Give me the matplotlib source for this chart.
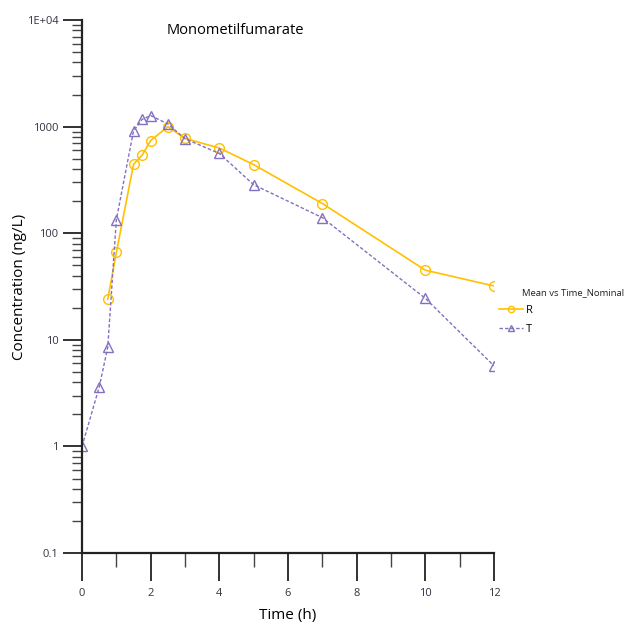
import matplotlib
matplotlib.use("Agg")
import matplotlib.pyplot as plt
from matplotlib.ticker import FixedLocator, LogLocator, NullFormatter

plt.rcParams['font.family'] = ['Open Sans', 'DejaVu Sans']

time_r = [0.75, 1, 1.5, 1.75, 2, 2.5, 3, 4, 5, 7, 10, 12]
conc_r = [24, 66, 442, 540, 740, 1000, 775, 630, 440, 190, 45, 32]

time_t = [0, 0.5, 0.75, 1, 1.5, 1.75, 2, 2.5, 3, 4, 5, 7, 10, 12]
conc_t = [1.0, 3.6, 8.5, 134, 910, 1170, 1270, 1060, 770, 560, 285, 140, 24.5, 5.7]

y_ticks = [0.1, 1, 10, 100, 1000, 10000]
y_labels = ['0.1', '1', '10', '100', '1000', '1E+04']
x_ticks = [0, 2, 4, 6, 8, 10, 12]

yellow = '#FFC000'
purple = '#8470C0'

fig = plt.figure(figsize=(6.28, 6.26), dpi=100)
ax = fig.add_axes([0.1306, 0.1166, 0.656, 0.8514])

ax.plot(time_r, conc_r, color=yellow, lw=1.2, marker='o', ms=7,
        mfc='none', mec=yellow, mew=1.0, label='R')
ax.plot(time_t, conc_t, color=purple, lw=1.0, ls=(0, (2.5, 1.5)), marker='^',
        ms=7, mfc='none', mec=purple, mew=1.0, label='T')

ax.set_yscale('log')
ax.set_xlim(0, 12)
ax.set_ylim(0.1, 10000)
ax.set_yticks(y_ticks)
ax.set_yticklabels(y_labels)
ax.yaxis.set_minor_locator(LogLocator(base=10, subs=range(2, 10)))
ax.yaxis.set_minor_formatter(NullFormatter())
ax.set_xticks(x_ticks)
ax.set_xticklabels([str(v) for v in x_ticks])
ax.xaxis.set_minor_locator(FixedLocator([1, 3, 5, 7, 9, 11]))

for s in ['top', 'right']:
    ax.spines[s].set_visible(False)
for s in ['left', 'bottom']:
    ax.spines[s].set_linewidth(1.6)
    ax.spines[s].set_color('#222222')

ax.tick_params(axis='x', which='major', length=20, width=1.3, pad=5,
               labelsize=8, colors='#222222', labelcolor='#333344')
ax.tick_params(axis='x', which='minor', length=10, width=1.0, colors='#444444')
ax.tick_params(axis='y', which='major', length=14, width=1.3, pad=3,
               labelsize=8, colors='#222222', labelcolor='#333344')
ax.tick_params(axis='y', which='minor', length=7, width=1.0, colors='#444444')

ax.set_xlabel('Time (h)', fontsize=11, labelpad=7)
ax.set_ylabel('Concentration (ng/L)', fontsize=11, labelpad=0)

fig.text(0.375, 0.952, 'Monometilfumarate', fontsize=10.5, ha='center', va='center')

fig.text(0.831, 0.533, 'Mean vs Time_Nominal', fontsize=6.8, ha='left', va='center',
         color='#222222')
ax.legend(loc='upper left', bbox_to_anchor=(0.785, 0.522), bbox_transform=fig.transFigure,
          frameon=False, fontsize=8, handlelength=2.2, handletextpad=0.3,
          labelspacing=0.7, borderpad=0, markerscale=0.65)

fig.savefig('out.png', dpi=100)
